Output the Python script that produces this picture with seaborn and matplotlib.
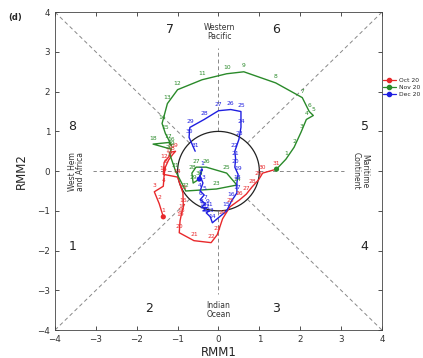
import numpy as np
import pandas as pd
import matplotlib
matplotlib.use('Agg')
import matplotlib.pyplot as plt
from matplotlib.lines import Line2D
import seaborn as sns

# RMM1 / RMM2 daily values
oct_rmm1 = [-1.35, -1.45, -1.57, -1.35, -1.33, -1.30, -1.22, -1.12, -1.05, -1.15, -1.20,
            -1.33, -1.35, -1.00, -0.87, -0.86, -0.90, -0.92, -0.94, -0.96, -0.60, -0.18,
            -0.03, 0.10, 0.28, 0.52, 0.68, 0.82, 0.98, 1.08, 1.42]
oct_rmm2 = [-1.15, -0.82, -0.52, -0.38, -0.10, 0.10, 0.28, 0.42, 0.50, 0.48, 0.38,
            0.22, -0.08, -0.15, -0.55, -0.90, -1.05, -1.15, -1.25, -1.55, -1.75, -1.80,
            -1.60, -1.20, -0.90, -0.72, -0.58, -0.40, -0.22, -0.05, 0.05]

nov_rmm1 = [1.65, 1.85, 2.02, 2.15, 2.32, 2.22, 2.05, 1.40, 0.62, 0.20, -0.40, -1.00,
            -1.25, -1.38, -1.30, -1.15, -1.22, -1.60, -1.15, -1.20, -1.05, -0.80, -0.05,
            0.45, 0.20, -0.30, -0.55, -0.65, -0.62, -0.47]
nov_rmm2 = [0.30, 0.60, 0.98, 1.30, 1.40, 1.50, 1.85, 2.22, 2.50, 2.45, 2.30, 2.05,
            1.70, 1.20, 0.95, 0.65, 0.72, 0.68, 0.55, 0.45, 0.00, -0.50, -0.45,
            -0.35, -0.05, 0.10, 0.10, -0.05, -0.30, -0.20]

dec_rmm1 = [-0.40, -0.45, -0.38, -0.45, -0.35, -0.45, -0.32, -0.42, -0.28, -0.38, -0.22,
            -0.30, -0.20, -0.15, 0.20, 0.32, 0.45, 0.45, 0.48, 0.40, 0.42, 0.40,
            0.50, 0.55, 0.55, 0.30, 0.00, -0.35, -0.70, -0.72, -0.57]
dec_rmm2 = [0.05, -0.12, -0.30, -0.50, -0.60, -0.72, -0.82, -0.92, -0.92, -1.00, -1.00,
            -1.05, -1.15, -1.30, -1.00, -0.75, -0.55, -0.30, -0.08, 0.10, 0.30, 0.50,
            0.80, 1.10, 1.50, 1.55, 1.52, 1.30, 1.10, 0.85, 0.50]

months = ['Oct 20', 'Nov 20', 'Dec 20']
colors = ['#e8282b', '#2a8a2a', '#1f1fe0']

phase_nums = ['1', '2', '3', '4', '5', '6', '7', '8']
phase_pos = [(-3.57, -1.89), (-1.7, -3.46), (1.41, -3.46), (3.58, -1.89),
             (3.58, 1.13), (1.41, 3.57), (-1.18, 3.57), (-3.57, 1.13)]

# build one table; each month after the first starts at the last day of the previous one
rows = []
series = [(oct_rmm1, oct_rmm2), (nov_rmm1, nov_rmm2), (dec_rmm1, dec_rmm2)]
prev = None
for m, (xs, ys) in zip(months, series):
    order = 0
    if prev is not None:
        rows.append(dict(month=m, order=order, day=0, RMM1=prev[0], RMM2=prev[1]))
        order += 1
    for d, (x, y) in enumerate(zip(xs, ys), start=1):
        rows.append(dict(month=m, order=order, day=d, RMM1=x, RMM2=y))
        order += 1
    prev = (xs[-1], ys[-1])
df = pd.DataFrame(rows)

sns.set_style('ticks')
fig = plt.figure(figsize=(4.23, 3.58), dpi=100)
ax = fig.add_axes([0.130, 0.078, 0.773, 0.888])

# dashed phase lines, broken by the unit circle
dash = dict(color='#888888', lw=0.7, ls=(0, (4, 3)), zorder=1)
r = 1 / np.sqrt(2)
for sx, sy in [(1, 1), (1, -1), (-1, 1), (-1, -1)]:
    ax.plot([sx * r, sx * 4], [sy * r, sy * 4], **dash)
ax.plot([0, 0], [1, 3.1], **dash)
ax.plot([0, 0], [-1, -3.1], **dash)
ax.plot([1, 3.06], [0, 0], **dash)
ax.plot([-1, -3.06], [0, 0], **dash)
t = np.linspace(0, 2 * np.pi, 300)
ax.plot(np.cos(t), np.sin(t), color='#222222', lw=0.9, zorder=2)

sns.lineplot(data=df, x='RMM1', y='RMM2', hue='month', units='month', sort=False,
             estimator=None, palette=colors, lw=1.0, legend=False, ax=ax, zorder=3)
starts = df[df['order'] == 0]
sns.scatterplot(data=starts, x='RMM1', y='RMM2', hue='month', palette=colors, s=14,
                edgecolor='none', legend=False, ax=ax, zorder=4)

for m, c in zip(months, colors):
    sub = df[(df['month'] == m) & (df['day'] > 0)]
    for _, row in sub.iterrows():
        ax.annotate(str(int(row['day'])), (row['RMM1'], row['RMM2']), xytext=(0, 2.5),
                    textcoords='offset points', ha='center', va='bottom', fontsize=4.3,
                    color=c, zorder=5)

for p, (x, y) in zip(phase_nums, phase_pos):
    ax.text(x, y, p, ha='center', va='center', fontsize=9, color='#222222')
ax.text(0.02, 3.5, 'Western\nPacific', ha='center', va='center', fontsize=5.5,
        color='#333333', linespacing=0.95)
ax.text(0.0, -3.5, 'Indian\nOcean', ha='center', va='center', fontsize=5.5,
        color='#333333', linespacing=0.95)
ax.text(-3.47, 0, 'West Hem\nand Africa', ha='center', va='center', fontsize=5.5,
        rotation=90, color='#333333', linespacing=0.95)
ax.text(3.47, 0, 'Maritime\nContinent', ha='center', va='center', fontsize=5.5,
        rotation=-90, color='#333333', linespacing=0.95)

ax.set_xlim(-4, 4)
ax.set_ylim(-4, 4)
ax.set_xticks(range(-4, 5))
ax.set_yticks(range(-4, 5))
ax.tick_params(direction='in', length=3, width=0.6, labelsize=6.3, colors='#333333',
               top=True, right=True)
for s in ax.spines.values():
    s.set_linewidth(0.6)
    s.set_color('#444444')
ax.set_xlabel('RMM1', fontsize=8.5, labelpad=1.2)
ax.set_ylabel('RMM2', fontsize=8.5, labelpad=7)

fig.text(0.02, 0.945, '(d)', fontsize=6, fontweight='bold')

handles = [Line2D([], [], color=c, marker='o', ms=3, lw=0.9) for c in colors]
fig.legend(handles, months, loc='center left', bbox_to_anchor=(0.905, 0.755),
           frameon=False, fontsize=4.3, handlelength=2.2, handletextpad=0.5,
           labelspacing=0.3, borderaxespad=0, borderpad=0)

fig.savefig('out.png', dpi=100)
